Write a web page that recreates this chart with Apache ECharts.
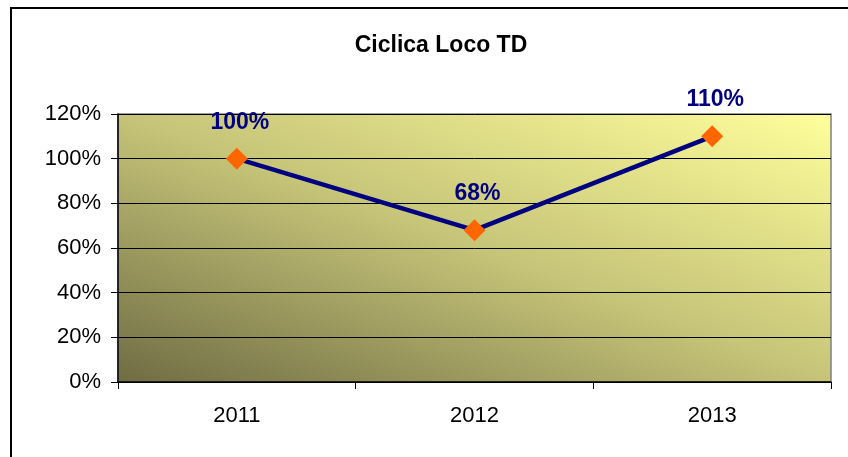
<!DOCTYPE html>
<html>
<head>
<meta charset="utf-8">
<script src="https://cdn.jsdelivr.net/npm/echarts@6/dist/echarts.min.js"></script>
<style>html,body{margin:0;padding:0;background:#fff;}#chart{width:848px;height:457px;}</style>
</head>
<body>
<div id="chart"></div>
<script>
const categories = ['2011', '2012', '2013'];
const values = [100, 68, 110];
const yTicks = { min: 0, max: 120, interval: 20 };
const titleText = 'Ciclica Loco TD';

const chart = echarts.init(document.getElementById('chart'), null, { renderer: 'canvas' });
const font = 'Arial, "Liberation Sans", sans-serif';
chart.setOption({
  animation: false,
  backgroundColor: '#ffffff',
  title: {
    text: titleText,
    left: 436, top: 29, textAlign: 'center',
    textStyle: { fontFamily: font, fontWeight: 'bold', fontSize: 23, color: '#000' }
  },
  graphic: [{
    type: 'rect', silent: true, z: 100,
    shape: { x: 11, y: 8, width: 900, height: 500 },
    style: { fill: 'none', stroke: '#000', lineWidth: 2 }
  }],
  grid: {
    left: 118, right: 17, top: 114, bottom: 75,
    show: true,
    borderColor: '#808080', borderWidth: 1.5,
    backgroundColor: new echarts.graphic.LinearGradient(118, 382, 295, -89, [
      { offset: 0, color: '#6f6c44' },
      { offset: 0.5, color: '#c6c478' },
      { offset: 1, color: '#ffff9c' }
    ], true)
  },
  xAxis: {
    type: 'category', data: categories, boundaryGap: true,
    axisLine: { lineStyle: { color: '#000', width: 1.5 } },
    axisTick: { show: true, length: 7, inside: false, lineStyle: { color: '#000' } },
    axisLabel: { margin: 23, fontFamily: font, fontSize: 22, color: '#000' },
    splitLine: { show: false }
  },
  yAxis: {
    type: 'value', min: yTicks.min, max: yTicks.max, interval: yTicks.interval,
    axisLine: { show: true, lineStyle: { color: '#000', width: 1.5 } },
    axisTick: { show: true, length: 7, lineStyle: { color: '#000' } },
    axisLabel: { margin: 17, fontFamily: font, fontSize: 22, color: '#000', formatter: '{value}%' },
    splitLine: { show: true, lineStyle: { color: '#000', width: 1 } }
  },
  series: [{
    type: 'line', data: values,
    lineStyle: { color: '#000080', width: 4.5 },
    itemStyle: { color: '#ff6600' },
    symbol: 'diamond', symbolSize: 22, showSymbol: true,
    label: {
      show: true, position: 'top', distance: 14, offset: [3, 0],
      fontFamily: font, fontWeight: 'bold', fontSize: 23, color: '#000080',
      formatter: '{c}%'
    },
    z: 5
  }]
});
</script>
</body>
</html>
